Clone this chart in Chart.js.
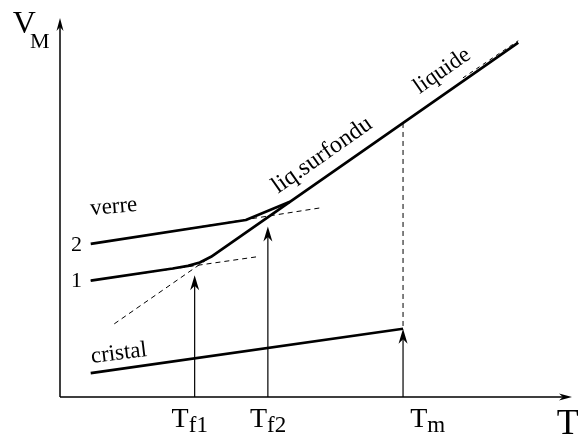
<!DOCTYPE html>
<html>
<head>
<meta charset="utf-8">
<script src="https://cdn.jsdelivr.net/npm/chart.js@4/dist/chart.umd.min.js"></script>
<style>
html,body{margin:0;padding:0;background:#fff;}
#wrap{width:578px;height:436px;}
</style>
</head>
<body>
<div id="wrap"><canvas id="c" width="578" height="436"></canvas></div>
<script>
// ---- data (arbitrary units: T on x, molar volume V_M on y) ----
const crystalT = [6.0, 67.0];
const crystalV = [6.3, 18.0];
const glass1T = [6.0, 22.0, 25.0, 27.3, 29.5, 44.9, 89.5];
const glass1V = [30.7, 33.9, 34.6, 35.5, 37.0, 51.5, 93.5];
const glass2T = [6.0, 36.3, 44.9];
const glass2V = [40.4, 46.7, 51.5];
const ext1T = [6.0, 39.0];
const ext1V = [30.7, 37.1];
const ext2T = [8.0, 51.3];
const ext2V = [40.8, 50.0];
const liqExtT = [10.6, 44.9];
const liqExtV = [19.3, 51.5];
const liqTopT = [78.7, 89.5];
const liqTopV = [84.2, 94.0];
const meltDashT = [67.0, 67.0];
const meltDashV = [72.3, 18.0];
const markT = [26.3, 40.6, 67.0];          // T_f1, T_f2, T_m
const markTipV = [32.1, 45.0, 18.0];
const markLabels = [['T','f1'], ['T','f2'], ['T','m']];
const axisLabelY = ['V','M'];
const axisLabelX = 'T';

const pts = (xs, ys) => xs.map((x, i) => ({x: x, y: ys[i]}));
const FONT = "'Liberation Serif','Times New Roman',serif";

function line(xs, ys, w, dash) {
  return {data: pts(xs, ys), showLine: true, pointRadius: 0, borderColor: '#000',
    borderWidth: w, borderDash: dash || [], fill: false, tension: 0,
    borderCapStyle: 'butt', borderJoinStyle: 'round'};
}

const datasets = [
  line(crystalT, crystalV, 2.7),
  line(glass1T, glass1V, 2.7),
  line(glass2T, glass2V, 2.7),
  line(ext1T, ext1V, 1, [5, 4]),
  line(ext2T, ext2V, 1, [5, 4]),
  line(liqExtT, liqExtV, 1, [5, 4]),
  line(liqTopT, liqTopV, 1, [4, 4]),
  line(meltDashT, meltDashV, 1, [5, 4])
];
markT.forEach((t, i) => datasets.push(line([t, t], [0, markTipV[i] - 2], 1.2)));

function arrowHead(ctx, x, y, dir, len, hw) {
  ctx.save();
  ctx.translate(x, y);
  if (dir === 'right') ctx.rotate(Math.PI / 2);
  ctx.beginPath();
  ctx.moveTo(0, 0);
  ctx.lineTo(-hw, len);
  ctx.lineTo(0, len * 0.7);
  ctx.lineTo(hw, len);
  ctx.closePath();
  ctx.fillStyle = '#000';
  ctx.fill();
  ctx.restore();
}

const decor = {
  id: 'decor',
  afterDatasetsDraw(chart) {
    const ctx = chart.ctx;
    const xs = chart.scales.x, ys = chart.scales.y;
    const X = v => xs.getPixelForValue(v), Y = v => ys.getPixelForValue(v);
    ctx.save();
    // axes
    ctx.strokeStyle = '#000';
    ctx.lineWidth = 1.5;
    ctx.beginPath();
    ctx.moveTo(X(0), Y(0));
    ctx.lineTo(X(0), Y(100) + 6);
    ctx.moveTo(X(0), Y(0));
    ctx.lineTo(X(100) - 6, Y(0));
    ctx.stroke();
    arrowHead(ctx, X(0), Y(100), 'up', 13, 3.5);
    arrowHead(ctx, X(100), Y(0), 'right', 13, 3.5);
    // marker arrows
    markT.forEach((t, i) => arrowHead(ctx, X(t), Y(markTipV[i]), 'up', 15, 4.5));

    ctx.fillStyle = '#000';
    ctx.textBaseline = 'alphabetic';
    function txt(s, x, y, size, rot, align) {
      ctx.save();
      ctx.font = size + 'px ' + FONT;
      ctx.textAlign = align || 'left';
      ctx.translate(x, y);
      if (rot) ctx.rotate(rot * Math.PI / 180);
      ctx.fillText(s, 0, 0);
      ctx.restore();
    }
    // axis labels
    txt(axisLabelY[0], X(-9.24), Y(96.0), 32);
    txt(axisLabelY[1], X(-5.86), Y(92.1), 22);
    txt(axisLabelX, X(97.0), Y(-9.8), 36);
    // T markers labels
    const labelLeft = [21.8, 37.1, 68.4];
    markLabels.forEach((l, i) => {
      const x0 = X(labelLeft[i]), y0 = Y(-7.9);
      ctx.font = '28px ' + FONT;
      const w = ctx.measureText(l[0]).width;
      txt(l[0], x0, y0, 28);
      txt(l[1], x0 + w, y0 + 5, 23);
    });
    // curve labels
    txt('verre', X(6.0), Y(48.0), 23, -5);
    txt('2', X(4.3), Y(38.5), 22, 0, 'right');
    txt('1', X(4.3), Y(29.1), 22, 0, 'right');
    txt('cristal', X(6.2), Y(9.0), 23, -7);
    txt('liq.surfondu', X(42.6), Y(53.6), 24, -35);
    txt('liquide', X(70.2), Y(79.9), 23, -35);
    ctx.restore();
  }
};

new Chart(document.getElementById('c'), {
  type: 'scatter',
  data: {datasets: datasets},
  options: {
    responsive: false,
    devicePixelRatio: 1,
    animation: false,
    layout: {padding: {left: 60, right: 6, top: 18, bottom: 39}},
    plugins: {legend: {display: false}, tooltip: {enabled: false}},
    scales: {
      x: {type: 'linear', min: 0, max: 100, display: false},
      y: {type: 'linear', min: 0, max: 100, display: false}
    }
  },
  plugins: [decor]
});
</script>
</body>
</html>
